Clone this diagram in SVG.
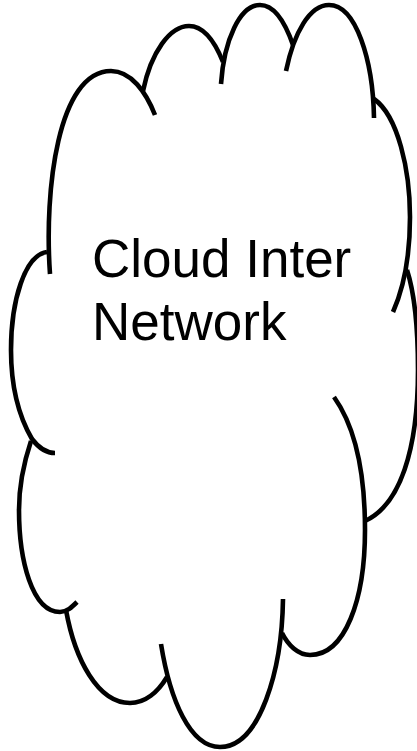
<svg xmlns="http://www.w3.org/2000/svg" width="417" height="751" viewBox="0 0 417 751">
<style>
.o{fill:none;stroke:#000;stroke-width:4.6}
.t{font-family:"Liberation Sans",Arial,sans-serif;font-size:53px;fill:#000}
</style>
<rect width="417" height="751" fill="#fff"/>
<g id="cloud">
<path class="o" d="M50 274C44 190 58 71 111 71C131 71 146 92 155 115"/>
<path class="o" d="M143 91C151 52 170 26 189 26C204 26 215 42 223 62"/>
<path class="o" d="M221 84C224 40 240 5 260 5C274 5 285 22 293 45"/>
<path class="o" d="M286 71C294 32 310 5 329 5C356 5 373 60 374 118"/>
<path class="o" d="M374 99C398 116 410 170 410 217C410 255 405 285 393 312"/>
<path class="o" d="M407 270C415 295 418 330 418 370C418 450 400 505 365 521"/>
<path class="o" d="M334 397C354 425 365 470 365 530C365 600 345 655 310 655C298 655 288 645 282 633"/>
<path class="o" d="M283 599C282 670 260 747 220 747C190 747 170 700 161 644"/>
<path class="o" d="M167 677C158 692 145 703 130 703C98 703 75 660 66 610"/>
<path class="o" d="M77 602C72 607 67 612 60 612C32 612 19 560 19 510C19 485 24 462 31 441"/>
<path class="o" d="M55 453C45 453 38 447 32 439C18 415 11 385 11 350C11 300 25 255 47 252"/>
<text class="t" x="92" y="277">Cloud Inter</text>
<text class="t" x="92" y="340">Network</text>
</g>
</svg>
